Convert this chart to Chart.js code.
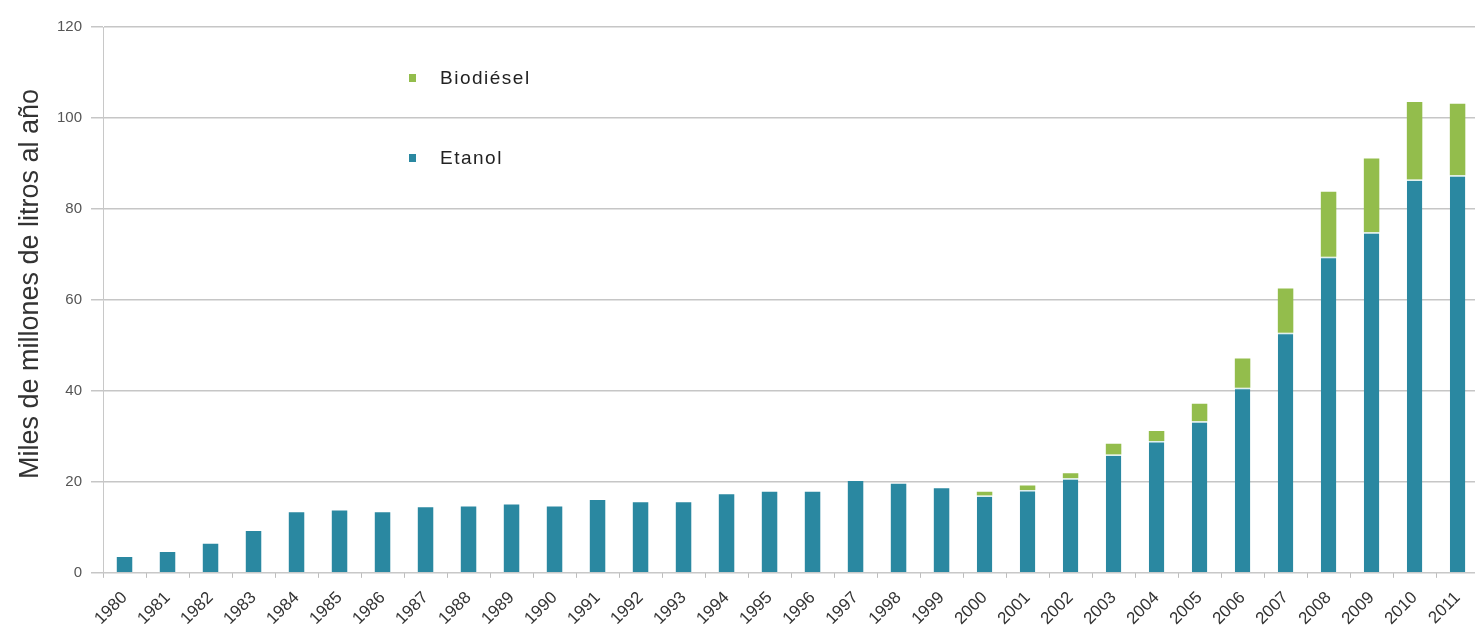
<!DOCTYPE html>
<html>
<head>
<meta charset="utf-8">
<script src="https://cdn.jsdelivr.net/npm/chart.js@4.4.1/dist/chart.umd.min.js"></script>
<style>
  html, body { margin: 0; padding: 0; background: #ffffff; overflow: hidden; }
  #wrap { position: relative; width: 1482px; height: 639px; }
</style>
</head>
<body>
<div id="wrap"><canvas id="c"></canvas></div>
<script>
const years = ['1980','1981','1982','1983','1984','1985','1986','1987','1988','1989','1990',
  '1991','1992','1993','1994','1995','1996','1997','1998','1999','2000','2001','2002','2003',
  '2004','2005','2006','2007','2008','2009','2010','2011'];
const etanol = [3.5, 4.6, 6.4, 9.2, 13.3, 13.7, 13.3, 14.4, 14.6, 15.0, 14.6,
  16.0, 15.5, 15.5, 17.3, 17.8, 17.8, 20.2, 19.6, 18.6, 17.0, 18.2, 20.8, 26.0,
  29.0, 33.3, 40.7, 52.8, 69.5, 74.9, 86.5, 87.4];
const biodiesel = [0, 0, 0, 0, 0, 0, 0, 0, 0, 0, 0,
  0, 0, 0, 0, 0, 0, 0, 0, 0, 0.8, 1.0, 1.1, 2.4,
  2.2, 3.9, 6.4, 9.7, 14.3, 16.2, 17.0, 15.7];
const yTicks = [0, 20, 40, 60, 80, 100, 120];
const seriesNames = ['Etanol', 'Biodiésel'];
const yTitle = 'Miles de millones de litros al año';
const colEtanol = '#2a88a1';
const colBio = '#93bd4c';
const FONT = '"Liberation Sans", Arial, sans-serif';

const extrasPlugin = {
  id: 'extras',
  afterDraw(chart) {
    const ctx = chart.ctx;
    const items = [
      { label: seriesNames[1], color: colBio, y: 78 },
      { label: seriesNames[0], color: colEtanol, y: 158 }
    ];
    ctx.save();
    ctx.font = '19px ' + FONT;
    try { ctx.letterSpacing = '1.5px'; } catch (e) {}
    ctx.textBaseline = 'middle';
    items.forEach(it => {
      ctx.fillStyle = it.color;
      ctx.fillRect(409, it.y - 4, 7, 8);
      ctx.fillStyle = '#222';
      ctx.fillText(it.label, 440, it.y + 1);
    });
    ctx.restore();

    // y-axis title
    ctx.save();
    ctx.font = '27px ' + FONT;
    ctx.fillStyle = '#333';
    ctx.textAlign = 'center';
    ctx.textBaseline = 'middle';
    ctx.translate(31, 284);
    ctx.rotate(-Math.PI / 2);
    ctx.fillText(yTitle, 0, 0);
    ctx.restore();
  }
};

new Chart(document.getElementById('c'), {
  type: 'bar',
  data: {
    labels: years,
    datasets: [
      {
        label: seriesNames[0],
        data: etanol,
        backgroundColor: colEtanol,
        borderColor: '#dff0ee',
        borderWidth: (c) => biodiesel[c.dataIndex] > 0 ? { top: 1.5, left: 0, right: 0, bottom: 0 } : 0,
        borderSkipped: 'bottom',
        categoryPercentage: 1,
        barPercentage: 0.36
      },
      {
        label: seriesNames[1],
        data: biodiesel,
        backgroundColor: colBio,
        borderWidth: 0,
        categoryPercentage: 1,
        barPercentage: 0.36
      }
    ]
  },
  options: {
    responsive: true,
    maintainAspectRatio: false,
    animation: false,
    layout: { padding: { top: 27, right: 0, left: 48, bottom: 0 } },
    plugins: {
      legend: { display: false },
      tooltip: { enabled: false }
    },
    scales: {
      x: {
        stacked: true,
        grid: { display: true, drawOnChartArea: false, drawTicks: true, tickLength: 5, color: '#bdbdbd', offset: true },
        border: { display: true, color: '#c8c8c8', width: 1 },
        ticks: {
          autoSkip: false,
          minRotation: 45,
          maxRotation: 45,
          color: '#333',
          padding: 10,
          font: { family: FONT, size: 17 }
        }
      },
      y: {
        stacked: true,
        min: 0,
        max: 120,
        afterBuildTicks: (axis) => { axis.ticks = yTicks.map(v => ({ value: v })); },
        grid: { color: '#c6c6c6', lineWidth: 1.5, tickLength: 12 },
        border: { display: true, color: '#c8c8c8', width: 1 },
        ticks: {
          color: '#555',
          padding: 9,
          font: { family: FONT, size: 15 }
        }
      }
    }
  },
  plugins: [extrasPlugin]
});
</script>
</body>
</html>
